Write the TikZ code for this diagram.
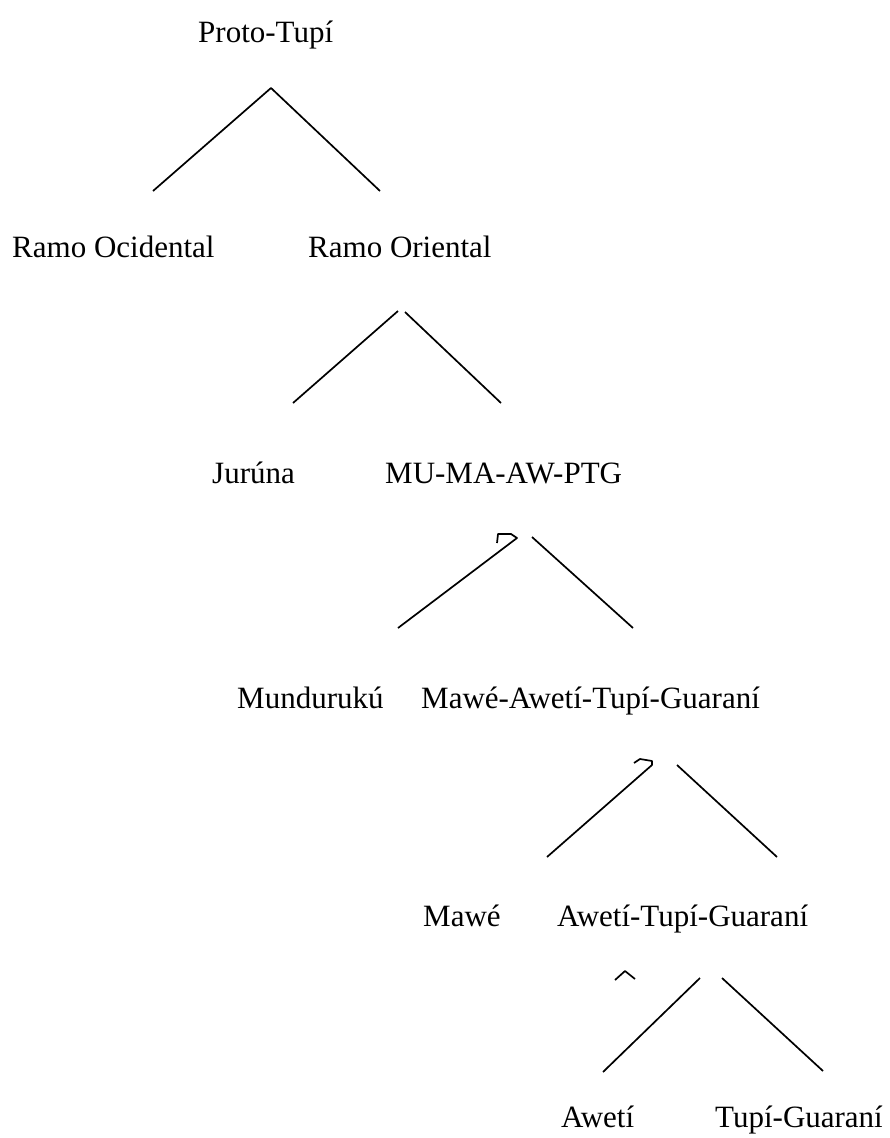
\documentclass[tikz,border=0pt]{standalone}
\usepackage{fontspec}
\setmainfont{Liberation Serif}

\begin{document}
\begin{tikzpicture}[x=1pt,y=-1pt,
  lang/.style={font=\fontsize{31}{35}\selectfont,inner sep=0pt,anchor=base west},
  branch/.style={line width=1.7pt,line join=round}]
\useasboundingbox (0,0) rectangle (890,1138);

% labels
\node[lang](protoTupi) at (198,42){Proto-Tupí};
\node[lang](ramoOc) at (12,257){Ramo Ocidental};
\node[lang](ramoOr) at (308,257){Ramo Oriental};
\node[lang](juruna) at (212,483){Jurúna};
\node[lang](mumaawptg) at (385,483){MU-MA-AW-PTG};
\node[lang](munduruku) at (237,708){Mundurukú};
\node[lang](mawetg) at (421,708){Mawé-Awetí-Tupí-Guaraní};
\node[lang](mawe) at (423,926){Mawé};
\node[lang](awetg) at (557,926){Awetí-Tupí-Guaraní};
\node[lang](aweti) at (561,1127){Awetí};
\node[lang](tupiG) at (715,1127){Tupí-Guaraní};

% branch points
\coordinate (ptTop) at (271,88);
\coordinate (ocFoot) at (153,191);
\coordinate (orFoot) at (380,191);
\coordinate (orTopL) at (398,311);
\coordinate (orTopR) at (405,312);
\coordinate (juFoot) at (293,403);
\coordinate (muFoot) at (501,403);
\coordinate (muTopL) at (517,538);
\coordinate (muTopR) at (532,537);
\coordinate (mdFoot) at (398,628);
\coordinate (maFoot) at (633,628);
\coordinate (maTopL) at (652,765);
\coordinate (maTopR) at (677,765);
\coordinate (mwFoot) at (547,857);
\coordinate (atFoot) at (777,857);
\coordinate (atTopL) at (700,978);
\coordinate (atTopR) at (722,978);
\coordinate (awFoot) at (603,1072);
\coordinate (tgFoot) at (823,1071);

\draw[branch] (ocFoot) -- (ptTop) -- (orFoot);
\draw[branch] (juFoot) -- (orTopL);
\draw[branch] (orTopR) -- (muFoot);
\draw[branch] (mdFoot) -- (muTopL) -- ++(-6,-4) -- ++(-13,0) -- ++(-1,9);
\draw[branch] (muTopR) -- (maFoot);
\draw[branch] (mwFoot) -- (maTopL) -- ++(0,-4) -- ++(-12,-2) -- ++(-6,4);
\draw[branch] (maTopR) -- (atFoot);
\draw[branch] (615,980) -- (625,971) -- (635,979);
\draw[branch] (awFoot) -- (atTopL);
\draw[branch] (atTopR) -- (tgFoot);
\end{tikzpicture}
\end{document}
